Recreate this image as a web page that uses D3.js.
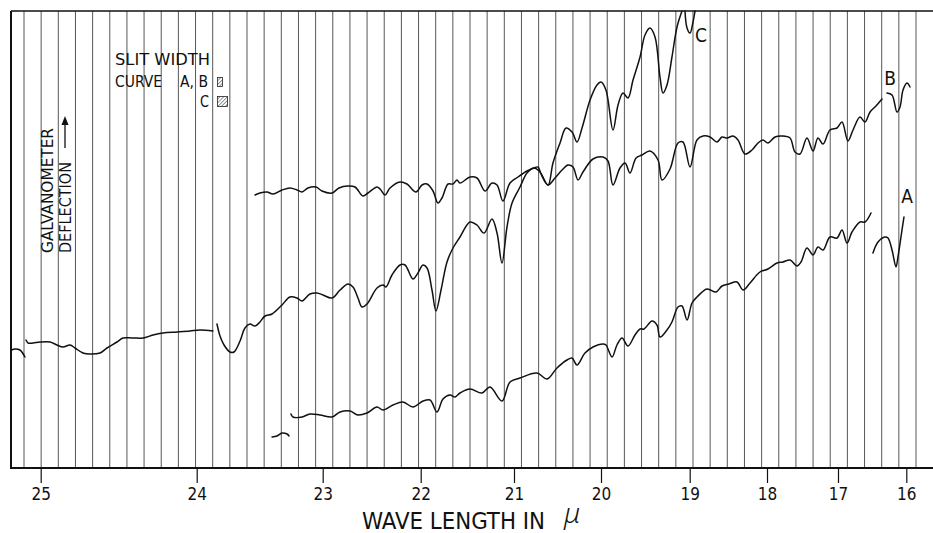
<!DOCTYPE html>
<html><head><meta charset="utf-8">
<script src="https://cdn.jsdelivr.net/npm/d3@7"></script>
<style>body{margin:0;background:#fff}svg{display:block}</style>
</head><body>
<script>
const W = 933, H = 533;
const FONT = "'DejaVu Sans Condensed','DejaVu Sans',sans-serif";

// Axis: wavelength ticks (microns) and the prism dispersion calibration (non-linear)
const wavelengthTicks = [25, 24, 23, 22, 21, 20, 19, 18, 17, 16];
const dispersionPx = [40.7, 196.7, 322.7, 420.7, 514, 601, 689.7, 767, 838, 906.3];

// Galvanometer deflection traces: [wavelength µ, deflection (arbitrary units)]
const curveCEdge = [[25.186,118],[25.165,119],[25.133,118],[25.101,111]];
const curveCLong = [[25.094,128],[25.081,125],[25.049,125],[25.004,126],[24.940,126],[24.896,123],[24.857,121],[24.812,123],[24.780,120],[24.729,115],[24.684,114],[24.620,115],[24.575,120],[24.511,126],[24.472,130],[24.408,130],[24.344,130],[24.280,133],[24.216,135],[24.126,136],[24.043,137],[23.974,138],[23.871,137]];
const curveC = [[23.839,144],[23.815,132],[23.783,123],[23.736,116],[23.704,116],[23.656,127],[23.617,140],[23.577,144],[23.537,142],[23.498,146],[23.458,152],[23.402,154],[23.323,163],[23.260,171],[23.204,170],[23.164,167],[23.101,174],[23.045,175],[22.997,173],[22.905,170],[22.823,178],[22.742,184],[22.691,181],[22.640,170],[22.599,161],[22.548,164],[22.446,180],[22.385,183],[22.354,181],[22.293,193],[22.211,203],[22.160,203],[22.079,189],[22.028,195],[21.975,203],[21.932,200],[21.879,178],[21.836,157],[21.782,178],[21.718,206],[21.654,220],[21.579,231],[21.472,246],[21.397,243],[21.322,235],[21.236,249],[21.182,235],[21.129,205],[21.075,241],[21.021,265],[20.931,281],[20.851,295],[20.770,300],[20.701,296],[20.609,283],[20.552,305],[20.471,325],[20.402,340],[20.333,336],[20.276,326],[20.218,340],[20.126,368],[20.046,383],[20.000,386],[19.944,378],[19.865,338],[19.808,363],[19.752,375],[19.696,370],[19.639,388],[19.560,411],[19.504,433],[19.448,440],[19.391,431],[19.335,391],[19.301,375],[19.256,383],[19.200,411],[19.143,441],[19.087,457]];
const curveCTop = [[19.053,457],[19.030,440],[18.996,435],[18.957,446],[18.931,457]];

const curveB = [[23.537,273],[23.498,275],[23.442,276],[23.394,274],[23.323,278],[23.260,280],[23.204,278],[23.164,276],[23.117,280],[23.053,281],[23.006,277],[22.905,275],[22.834,280],[22.742,282],[22.670,281],[22.589,272],[22.538,275],[22.446,281],[22.415,279],[22.364,273],[22.313,280],[22.211,286],[22.140,284],[22.048,276],[21.986,283],[21.932,284],[21.868,277],[21.815,265],[21.772,270],[21.707,284],[21.654,284],[21.611,288],[21.579,285],[21.472,291],[21.397,290],[21.311,277],[21.236,285],[21.182,283],[21.118,267],[21.043,285],[20.954,291],[20.851,297],[20.770,300],[20.724,301],[20.690,294],[20.609,283],[20.529,290],[20.448,298],[20.379,303],[20.322,301],[20.264,288],[20.207,296],[20.092,309],[19.977,311],[19.921,307],[19.865,283],[19.786,300],[19.729,305],[19.673,295],[19.605,310],[19.538,313],[19.448,317],[19.357,308],[19.312,288],[19.222,299],[19.132,325],[19.076,326],[18.996,301],[18.906,328],[18.828,332],[18.737,331],[18.647,326],[18.582,331],[18.517,330],[18.440,332],[18.375,328],[18.285,314],[18.194,318],[18.116,325],[18.052,328],[17.986,325],[17.887,331],[17.789,332],[17.676,330],[17.606,316],[17.535,314],[17.437,330],[17.352,317],[17.282,330],[17.211,324],[17.113,338],[17.014,340],[16.941,346],[16.854,327],[16.780,338],[16.678,351],[16.605,346],[16.531,356],[16.444,362],[16.356,369]];
const curveBEnd = [[16.283,375],[16.209,373],[16.136,356],[16.092,361],[16.048,378],[15.990,385],[15.946,381]];

const curveAStub = [[23.402,31],[23.363,32],[23.323,35],[23.283,34],[23.267,32]];
const curveA = [[23.252,54],[23.236,51],[23.164,51],[23.101,54],[23.021,53],[22.905,51],[22.823,56],[22.721,57],[22.640,53],[22.548,55],[22.446,61],[22.385,58],[22.283,63],[22.181,66],[22.079,61],[21.975,67],[21.900,68],[21.825,56],[21.761,69],[21.686,73],[21.632,71],[21.579,75],[21.472,79],[21.343,75],[21.257,81],[21.129,67],[21.043,86],[20.931,90],[20.736,95],[20.621,89],[20.506,100],[20.391,108],[20.333,110],[20.276,103],[20.184,115],[20.092,121],[19.977,124],[19.944,123],[19.876,111],[19.820,123],[19.763,130],[19.696,122],[19.617,133],[19.560,139],[19.515,139],[19.425,147],[19.369,143],[19.335,131],[19.256,138],[19.200,146],[19.132,161],[19.087,162],[19.030,148],[18.970,165],[18.906,171],[18.776,179],[18.660,176],[18.582,182],[18.492,184],[18.388,186],[18.310,178],[18.220,185],[18.091,196],[17.986,199],[17.859,205],[17.775,206],[17.676,208],[17.577,202],[17.521,206],[17.437,220],[17.352,213],[17.282,221],[17.211,218],[17.113,231],[17.014,230],[16.941,238],[16.868,225],[16.795,236],[16.678,246],[16.605,246],[16.517,255]];
const curveAEnd = [[16.488,215],[16.414,226],[16.312,231],[16.268,230],[16.209,218],[16.151,201],[16.122,211],[16.063,238],[16.034,251]];

// Curve labels: [name, wavelength, deflection]
const curveLabels = [["C", 18.853, 433], ["B", 16.238, 390], ["A", 15.990, 272]];

const svg = d3.select("body").append("svg").attr("width", W).attr("height", H);
const x = d3.scaleLinear().domain(wavelengthTicks).range(dispersionPx);
const y = d3.scaleLinear().domain([0, 457]).range([468, 11]);

// hatch pattern for slit width symbols
const defs = svg.append("defs");
const pat = defs.append("pattern").attr("id","hatch").attr("patternUnits","userSpaceOnUse")
  .attr("width",2.6).attr("height",2.6).attr("patternTransform","rotate(45)");
pat.append("line").attr("x1",0).attr("y1",0).attr("x2",0).attr("y2",2.6).attr("stroke","#222").attr("stroke-width",1);

// recorder time marks (vertical chart lines)
const marks = d3.scaleLinear().domain([0, 52]).range([24, 916]);
svg.append("g").selectAll("line").data(d3.range(53)).join("line")
  .attr("x1", d => marks(d)).attr("x2", d => marks(d))
  .attr("y1", y(457)).attr("y2", y(0))
  .attr("stroke", "#444").attr("stroke-width", 0.9);

// frame
svg.append("line").attr("x1",11).attr("x2",W).attr("y1",y(457)).attr("y2",y(457)).attr("stroke","#111").attr("stroke-width",1.5);
svg.append("line").attr("x1",11).attr("x2",11).attr("y1",y(457)).attr("y2",y(0)).attr("stroke","#111").attr("stroke-width",2);
svg.append("line").attr("x1",10).attr("x2",W).attr("y1",y(0)).attr("y2",y(0)).attr("stroke","#111").attr("stroke-width",2);

// axis
const axis = d3.axisBottom(x).tickValues(wavelengthTicks).tickSize(15).tickSizeOuter(0).tickPadding(5).tickFormat(d3.format("d"));
const gAxis = svg.append("g").attr("transform", `translate(0,${y(0)})`).call(axis);
gAxis.select(".domain").remove();
gAxis.selectAll(".tick line").attr("stroke","#111").attr("stroke-width",1.2);
gAxis.selectAll(".tick text").attr("font-family",FONT).attr("font-size",17).attr("fill","#111");

// title
svg.append("text").attr("x",362).attr("y",529).attr("font-family",FONT).attr("font-size",23)
  .attr("textLength",183).attr("lengthAdjust","spacingAndGlyphs").attr("fill","#111").text("WAVE LENGTH IN");
svg.append("text").attr("x",564).attr("y",523).attr("font-family","'Noto Sans','Open Sans',sans-serif").attr("font-style","italic")
  .attr("font-weight",300).attr("font-size",28).attr("fill","#111").text("μ");

// y label
svg.append("text").attr("transform","translate(53,253) rotate(-90)").attr("font-family",FONT).attr("font-size",16)
  .attr("textLength",125).attr("lengthAdjust","spacingAndGlyphs").attr("fill","#111").text("GALVANOMETER");
svg.append("text").attr("transform","translate(71,253) rotate(-90)").attr("font-family",FONT).attr("font-size",16)
  .attr("textLength",91).attr("lengthAdjust","spacingAndGlyphs").attr("fill","#111").text("DEFLECTION");
svg.append("line").attr("x1",65).attr("x2",65).attr("y1",148).attr("y2",123).attr("stroke","#111").attr("stroke-width",1.3);
svg.append("path").attr("d","M65,116 L61.5,125 L68.5,125 Z").attr("fill","#111");

// legend
const lg = svg.append("g").attr("font-family",FONT).attr("font-size",15).attr("fill","#111");
lg.append("text").attr("x",115).attr("y",65).attr("textLength",95).attr("lengthAdjust","spacingAndGlyphs").text("SLIT WIDTH");
lg.append("text").attr("x",115).attr("y",87).attr("textLength",47).attr("lengthAdjust","spacingAndGlyphs").text("CURVE");
lg.append("text").attr("x",180).attr("y",87).attr("textLength",28).attr("lengthAdjust","spacingAndGlyphs").text("A, B");
lg.append("text").attr("x",200).attr("y",107).attr("textLength",9).attr("lengthAdjust","spacingAndGlyphs").text("C");
svg.append("rect").attr("x",217.5).attr("y",77.5).attr("width",5).attr("height",9).attr("fill","url(#hatch)").attr("stroke","#222").attr("stroke-width",0.8);
svg.append("rect").attr("x",217.5).attr("y",96.5).attr("width",10).attr("height",10).attr("fill","url(#hatch)").attr("stroke","#222").attr("stroke-width",0.8);

// traces
const line = d3.line().x(d => x(d[0])).y(d => y(d[1])).curve(d3.curveCatmullRom.alpha(0.5));
const traces = [curveCEdge, curveCLong, curveC, curveCTop, curveB, curveBEnd, curveAStub, curveA, curveAEnd];
svg.append("g").selectAll("path").data(traces).join("path")
  .attr("d", line).attr("fill","none").attr("stroke","#111").attr("stroke-width",1.5)
  .attr("stroke-linejoin","round").attr("stroke-linecap","round");

// curve labels
svg.append("g").selectAll("text").data(curveLabels).join("text")
  .attr("x", d => x(d[1])).attr("y", d => y(d[2])).attr("text-anchor","middle").attr("dominant-baseline","central")
  .attr("font-family",FONT).attr("font-size",19).attr("fill","#111").text(d => d[0]);
</script>
</body></html>
